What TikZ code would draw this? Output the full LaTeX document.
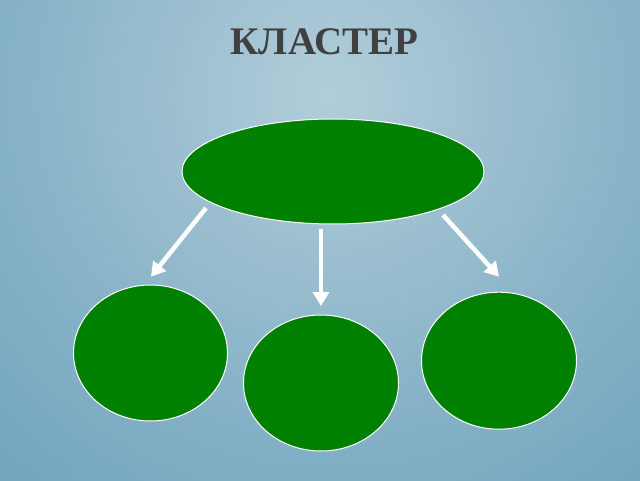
\documentclass[tikz,border=0pt]{standalone}
\usepackage{fontspec}
\setmainfont{Liberation Serif}
\usetikzlibrary{shapes.geometric,arrows.meta}
\definecolor{bgInner}{RGB}{178,205,218}
\definecolor{bgMid}{RGB}{138,180,200}
\definecolor{bgOuter}{RGB}{86,148,178}
\definecolor{bgEdge}{RGB}{78,140,170}
\pgfdeclareradialshading{bgGlow}{\pgfpoint{0bp}{0bp}}{%
  color(0bp)=(bgInner); color(14bp)=(bgMid); color(36bp)=(bgOuter); color(50bp)=(bgEdge)}
\begin{document}
\begin{tikzpicture}[x=1pt,y=1pt,
  blob/.style={ellipse,draw=white,line width=1pt,fill=fillColor,inner sep=0pt},
  arr/.style={draw=white,line width=4.5pt,-{Triangle[length=14pt,width=16pt]}}]
\definecolor{fillColor}{RGB}{0,128,0}
\definecolor{textColor}{RGB}{64,64,64}
\path[use as bounding box] (0,0) rectangle (640,480);
\begin{scope}
\path[clip] (0,0) rectangle (640,480);
\shade[shading=bgGlow] (330,385) circle (520);
\end{scope}

\node[text=textColor,anchor=base,inner sep=0pt,outer sep=0pt,font=\bfseries\fontsize{39}{41}\selectfont] (title) at (324.5,425.0) {КЛАСТЕР};

\node[blob,minimum width=302,minimum height=105] (top) at (333.0,308.5) {};
\node[blob,minimum width=154,minimum height=136] (left) at (150.5,127.0) {};
\node[blob,minimum width=155,minimum height=136] (mid) at (321.0, 97.0) {};
\node[blob,minimum width=155,minimum height=137] (right) at (499.0,119.3) {};

\coordinate (leftA) at (206.0,272.0);
\coordinate (leftB) at (151.0,203.3);
\coordinate (midA) at (321.0,251.0);
\coordinate (midB) at (321.0,174.0);
\coordinate (rightA) at (443.0,265.0);
\coordinate (rightB) at (499.0,203.3);

\path[arr] (leftA) -- (leftB);
\path[arr] (midA) -- (midB);
\path[arr] (rightA) -- (rightB);
\end{tikzpicture}
\end{document}
